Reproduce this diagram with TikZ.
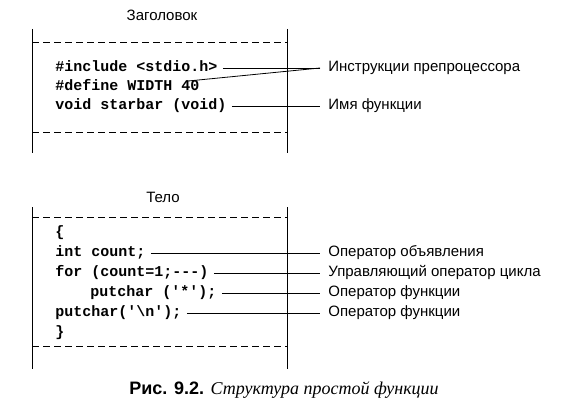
\documentclass[tikz,border=0pt]{standalone}
\usepackage{fontspec}
\setmainfont{Liberation Sans}
\setmonofont{Liberation Mono}
\newfontfamily\capfont{Liberation Serif}
\usetikzlibrary{positioning}

\begin{document}
\begin{tikzpicture}[x=1pt, y=-1pt, line width=0.8pt,
  code/.style={anchor=west, font=\fontsize{15}{17}\selectfont\ttfamily\bfseries, inner xsep=5pt, inner ysep=0pt, text height=9pt, text depth=2pt},
  note/.style={anchor=west, font=\fontsize{15}{17}\selectfont, inner xsep=8pt, inner ysep=0pt, text height=9pt, text depth=2pt},
  head/.style={font=\fontsize{15}{17}\selectfont},
  sep/.style={dash pattern=on 7pt off 4pt}]
\useasboundingbox (0,0) rectangle (565,409);
% header block
\node[head] (hdr) at (162,15) {Заголовок};
\draw (32,29) -- (32,153);
\draw (287,29) -- (287,153);
\draw[sep] (32,42) -- (287,42);
\draw[sep] (32,132) -- (287,132);
\node[code] (inc) at (50,68) {\#include <stdio.h>};
\node[code] (def) at (50,87) {\#define WIDTH 40};
\node[code] (proto) at (50,106) {void starbar (void)};
\coordinate (pp) at (320,68);
\node[note] (prep) at (320,68) {Инструкции препроцессора};
\node[note] (fname) at (320,106) {Имя функции};
\draw (inc) -- (pp); \draw (def) -- (pp); \draw (pp) -- (prep);
\draw (proto) -- (fname);
% body block
\node[head] (body) at (163,197) {Тело};
\draw (32,207) -- (32,369);
\draw (287,207) -- (287,369);
\draw[sep] (32,217) -- (287,217);
\draw[sep] (32,346) -- (287,346);
\node[code] (open) at (50,233) {\{};
\node[code] (decl) at (50,253) {int count;};
\node[code] (loop) at (50,273) {for (count=1;---)};
\node[code] (call) at (85,293) {putchar ('*');};
\node[code] (nl) at (50,313) {putchar('\textbackslash n');};
\node[code] (close) at (50,333) {\}};
\node[note] (ndecl) at (320,253) {Оператор объявления};
\node[note] (nloop) at (320,273) {Управляющий оператор цикла};
\node[note] (ncall) at (320,293) {Оператор функции};
\node[note] (nnl) at (320,313) {Оператор функции};
\draw (decl) -- (ndecl); \draw (loop) -- (nloop);
\draw (call) -- (ncall); \draw (nl) -- (nnl);
% caption
\node[font=\fontsize{18}{20}\selectfont] (cap) at (284,390) {\textbf{Рис. 9.2.} {\capfont\itshape Структура простой функции}};
\end{tikzpicture}
\end{document}
